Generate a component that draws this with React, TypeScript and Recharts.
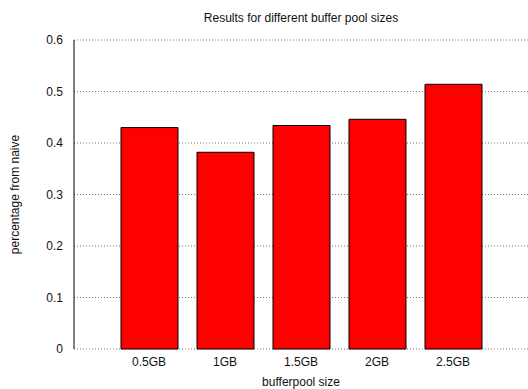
import React from 'react';
import { BarChart, Bar, XAxis, YAxis, CartesianGrid, Label } from 'recharts';

const poolSizes = ['0.5GB', '1GB', '1.5GB', '2GB', '2.5GB'];
const ratios = [0.43, 0.382, 0.434, 0.446, 0.514];
const yTicks = [0, 0.1, 0.2, 0.3, 0.4, 0.5, 0.6];

const data = poolSizes.map((size, i) => ({ size, ratio: ratios[i] }));

const font = '"Liberation Sans", Arial, sans-serif';

export default function App() {
  return (
    <div style={{ position: 'absolute', left: 0, top: 0, width: 528, height: 389, fontFamily: font, background: '#fff' }}>
      <div
        style={{
          position: 'absolute',
          top: 11,
          left: 74,
          width: 454,
          textAlign: 'center',
          fontSize: 12,
          color: '#111',
        }}
      >
        Results for different buffer pool sizes
      </div>
      <BarChart
        width={528}
        height={389}
        data={data}
        margin={{ top: 40, right: 0, left: 0, bottom: 0 }}
        barCategoryGap={0}
      >
        <CartesianGrid
          vertical={false}
          stroke="#777"
          strokeDasharray="1 2"
          strokeWidth={1}
        />
        <XAxis
          dataKey="size"
          height={40}
          axisLine={false}
          tickLine={false}
          padding={{ left: 37, right: 37 }}
          tick={{ fill: '#111', fontSize: 12, fontFamily: font }}
        >
          <Label value="bufferpool size" position="insideBottom" offset={3} style={{ fill: '#111', fontSize: 12, fontFamily: font }} />
        </XAxis>
        <YAxis
          width={74}
          domain={[0, 0.6]}
          ticks={yTicks}
          tickFormatter={(v: number) => String(v)}
          axisLine={{ stroke: '#000', strokeWidth: 1 }}
          tickLine={false}
          tickMargin={5}
          tick={{ fill: '#111', fontSize: 12, fontFamily: font }}
        >
          <Label
            value="percentage from naive"
            angle={-90}
            position="insideLeft"
            offset={15}
            style={{ fill: '#111', fontSize: 12, fontFamily: font, textAnchor: 'middle' }}
          />
        </YAxis>
        <Bar dataKey="ratio" fill="#ff0000" stroke="#000" strokeWidth={1} barSize={57} isAnimationActive={false} />
      </BarChart>
    </div>
  );
}
